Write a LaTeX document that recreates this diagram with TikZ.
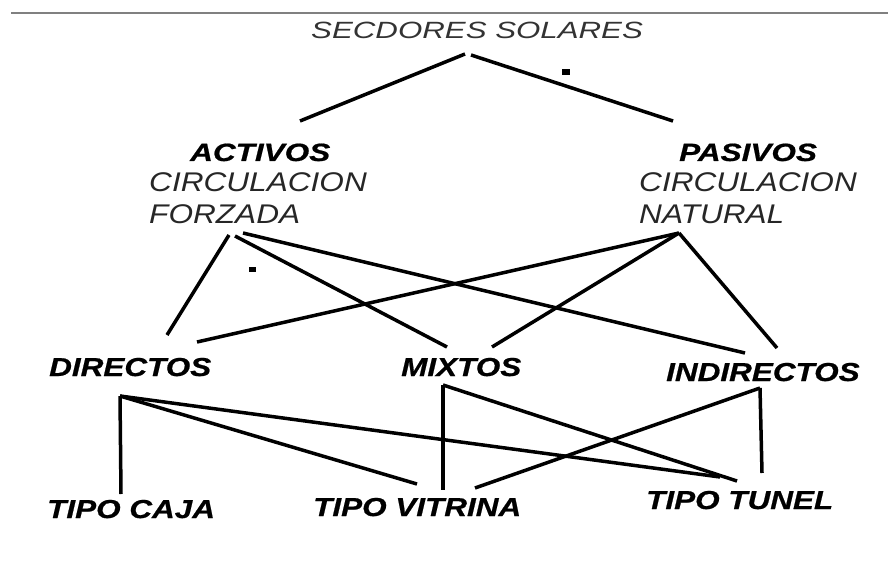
\documentclass[tikz,border=0pt]{standalone}
\usepackage{fontspec}
\setmainfont{Liberation Sans}
\newfontfamily\anchoA[FakeStretch=1.33]{Liberation Sans}
\newfontfamily\anchoB[FakeStretch=1.26,BoldItalicFeatures={FakeBold=0.7}]{Liberation Sans}
\newfontfamily\anchoC[FakeStretch=1.17]{Liberation Sans}
\newfontfamily\anchoD[FakeStretch=1.21,BoldItalicFeatures={FakeBold=0.7}]{Liberation Sans}
\tikzstyle{titulo}=[anchor=base west,inner sep=0pt,text=black!80,font=\anchoA\itshape\fontsize{23.5}{28}\selectfont]
\tikzstyle{clase}=[anchor=base west,inner sep=0pt,font=\anchoB\bfseries\itshape\fontsize{25}{30}\selectfont]
\tikzstyle{detalle}=[anchor=base west,inner sep=0pt,text=black!85,font=\anchoC\itshape\fontsize{27}{32}\selectfont]
\tikzstyle{tipo}=[anchor=base west,inner sep=0pt,font=\anchoD\bfseries\itshape\fontsize{26}{30}\selectfont]
\tikzstyle{rama}=[line width=3.5pt]

\begin{document}
\begin{tikzpicture}[x=1pt,y=-1pt]
    \useasboundingbox (0,0) rectangle (888,572);
    \draw[gray,line width=1.5pt] (11,13) -- (888,13);

    % textos
    \node[titulo]  (sec)  at (311,39)  {SECDORES SOLARES};
    \node[clase]   (act)  at (190,161) {ACTIVOS};
    \node[detalle] (act1) at (149,192) {CIRCULACION};
    \node[detalle] (act2) at (149,223) {FORZADA};
    \node[clase]   (pas)  at (679,161) {PASIVOS};
    \node[detalle] (pas1) at (639,192) {CIRCULACION};
    \node[detalle] (pas2) at (639,223) {NATURAL};
    \node[tipo]    (dir)  at (49,376)  {DIRECTOS};
    \node[tipo]    (mix)  at (401,376) {MIXTOS};
    \node[tipo]    (ind)  at (666,381) {INDIRECTOS};
    \node[tipo]    (caja) at (47,518)  {TIPO CAJA};
    \node[tipo]    (vit)  at (313,516) {TIPO VITRINA};
    \node[tipo]    (tun)  at (646,509) {TIPO TUNEL};

    % extremos de las ramas
    \coordinate (sec-l) at (465,54);
    \coordinate (sec-r) at (471,55);
    \coordinate (act-t) at (300,121);
    \coordinate (pas-t) at (673,121);
    \coordinate (act-1) at (229,235);
    \coordinate (act-2) at (235,236);
    \coordinate (act-3) at (243,233);
    \coordinate (pas-b) at (679,233);
    \coordinate (dir-a) at (167,335);
    \coordinate (dir-p) at (197,342);
    \coordinate (mix-a) at (447,347);
    \coordinate (mix-p) at (492,347);
    \coordinate (ind-a) at (745,353);
    \coordinate (ind-p) at (777,348);
    \coordinate (dir-b) at (120,396);
    \coordinate (mix-b) at (443,385);
    \coordinate (ind-b) at (760,388);
    \coordinate (caja-d) at (121,494);
    \coordinate (vit-d) at (417,484);
    \coordinate (vit-m) at (443,490);
    \coordinate (vit-i) at (475,488);
    \coordinate (tun-d) at (720,477);
    \coordinate (tun-m) at (737,481);
    \coordinate (tun-i) at (762,473);

    \foreach \from/\to in {sec-l/act-t,sec-r/pas-t,act-1/dir-a,act-2/mix-a,act-3/ind-a,pas-b/dir-p,pas-b/mix-p,pas-b/ind-p,dir-b/caja-d,dir-b/vit-d,dir-b/tun-d,mix-b/vit-m,mix-b/tun-m,ind-b/tun-i,ind-b/vit-i}
    \draw[rama] (\from) -- (\to);

    \fill (562,69) rectangle (570,75);
    \fill (249,267) rectangle (256,272);
\end{tikzpicture}
\end{document}
